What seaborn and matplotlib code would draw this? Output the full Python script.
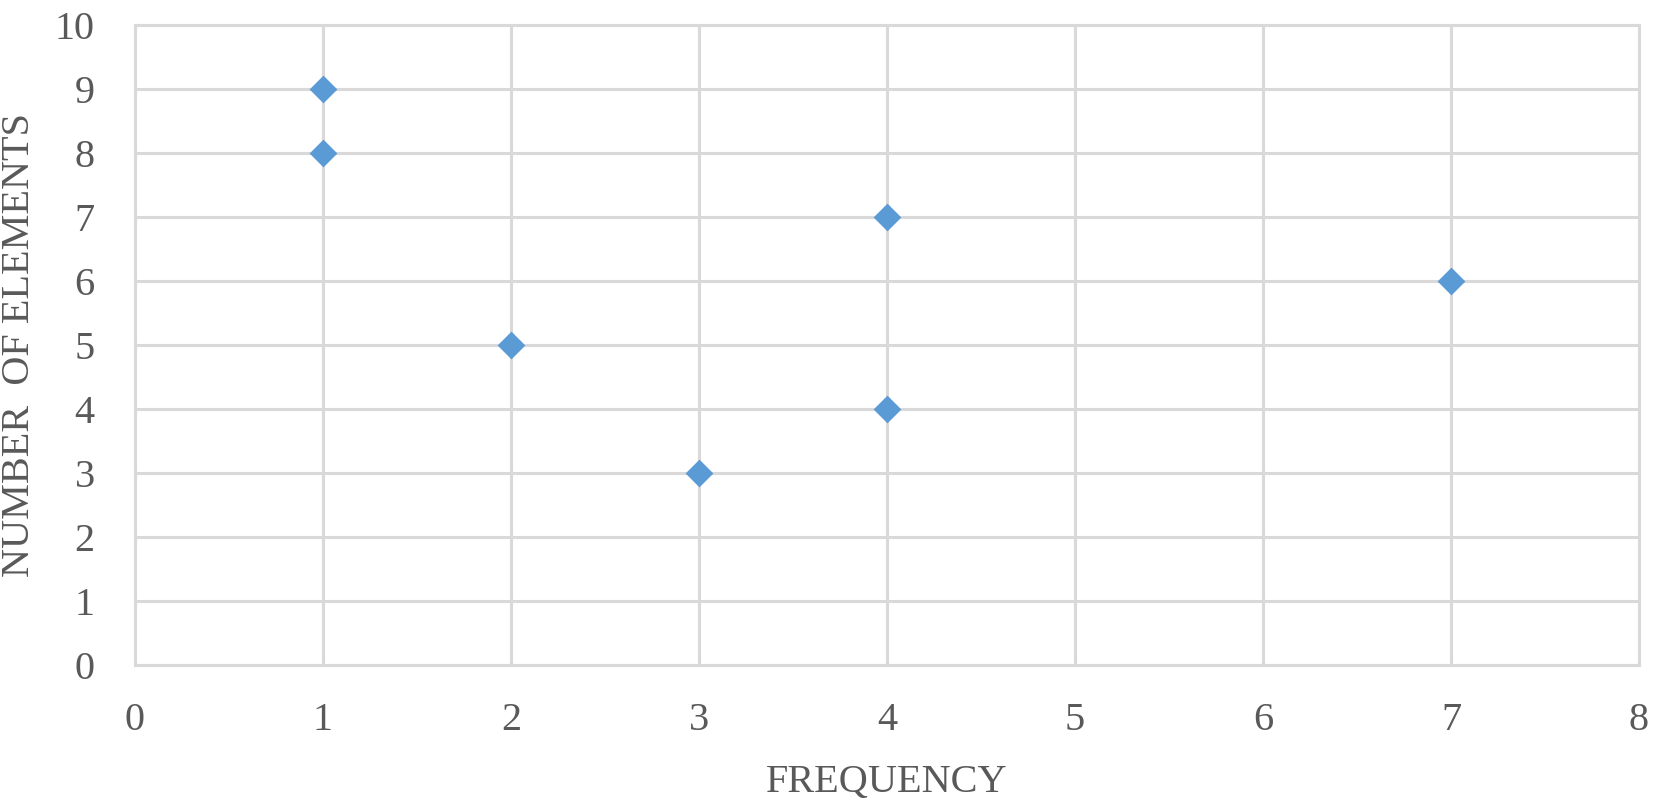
import matplotlib
matplotlib.use("Agg")
import matplotlib.pyplot as plt
import seaborn as sns
import pandas as pd

frequency = [1, 1, 2, 3, 4, 4, 7]
elements = [9, 8, 5, 3, 7, 4, 6]
x_ticks = [0, 1, 2, 3, 4, 5, 6, 7, 8]
y_ticks = [0, 1, 2, 3, 4, 5, 6, 7, 8, 9, 10]

df = pd.DataFrame({"FREQUENCY": frequency, "NUMBER OF ELEMENTS": elements})

sns.set_theme(style="white")
plt.rcParams['font.family'] = ['Liberation Serif', 'DejaVu Serif']

fig = plt.figure(figsize=(16.53, 8.07), dpi=100)
ax = fig.add_axes([135/1653, 1 - 665/807, (1639 - 135)/1653, (665 - 25)/807])

sns.scatterplot(data=df, x="FREQUENCY", y="NUMBER OF ELEMENTS", ax=ax,
                marker="D", s=200, color="#5b9bd5", edgecolor="#5b9bd5",
                linewidth=0, zorder=3, clip_on=False)

ax.set_xlim(0, 8)
ax.set_ylim(0, 10)
ax.set_xticks(x_ticks)
ax.set_yticks(y_ticks)
ax.grid(True, color="#d9d9d9", linewidth=2.2)
ax.set_axisbelow(True)
for sp in ax.spines.values():
    sp.set_visible(True)
    sp.set_color("#d9d9d9")
    sp.set_linewidth(2.2)

ax.tick_params(axis="both", length=0, labelsize=29, labelcolor="#595959")
ax.tick_params(axis="y", pad=29)
ax.tick_params(axis="x", pad=27)

ax.set_xlabel("FREQUENCY", fontsize=29, color="#595959", labelpad=18)
ax.set_ylabel("NUMBER  OF ELEMENTS", fontsize=29, color="#595959", labelpad=12)

fig.savefig("out.png", dpi=100, facecolor="white")
